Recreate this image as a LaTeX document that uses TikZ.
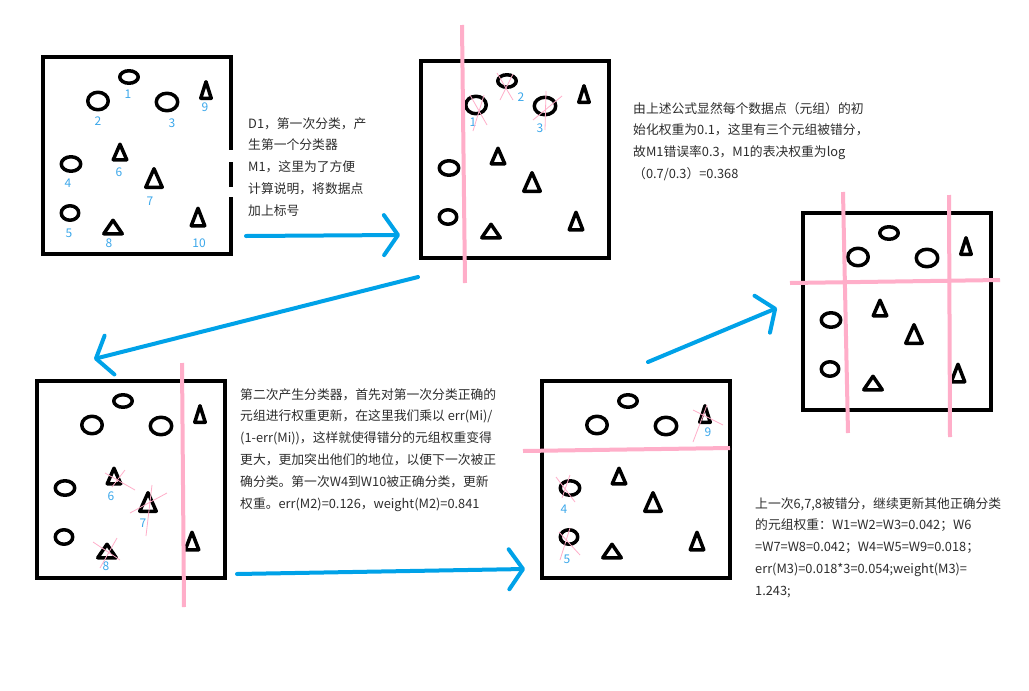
\documentclass[tikz,border=0pt]{standalone}
\usepackage{fontspec}
\setmainfont{Noto Sans CJK SC}
\usetikzlibrary{arrows.meta}
\definecolor{pblue}{RGB}{0,162,232}
\definecolor{lblue}{RGB}{60,168,235}
\definecolor{pinkc}{RGB}{255,174,201}
\definecolor{txtc}{RGB}{45,45,45}
\begin{document}
\begin{tikzpicture}[x=1pt,y=-1pt,
  box/.style={draw=black, line width=4pt, minimum width=188pt, minimum height=197pt, anchor=north west, inner sep=0pt, outer sep=0pt},
  shp/.style={draw=black, line width=3.5pt, line join=round},
  lab/.style={text=lblue, font=\fontsize{12}{12}\selectfont, inner sep=0pt},
  cut/.style={draw=pinkc, line width=4pt},
  xmark/.style={draw=pinkc, line width=0.8pt},
  flow/.style={draw=pblue, line width=4pt, line cap=round, -{Straight Barb[length=14pt,width=40pt,line cap=round,line join=round]}},
  note/.style={text=txtc, align=left, anchor=north west, inner sep=0pt, font=\fontsize{12.8}{21.8}\selectfont},
  pts/.pic={
    \draw[shp] (86,20) ellipse [x radius=9.25pt, y radius=6.25pt];
    \draw[shp] (55,44) ellipse [x radius=10.25pt, y radius=8.75pt];
    \draw[shp] (124,45) ellipse [x radius=10.75pt, y radius=8.75pt];
    \draw[shp] (28,107) ellipse [x radius=9.75pt, y radius=7.25pt];
    \draw[shp] (27,156) ellipse [x radius=8.75pt, y radius=7.25pt];
    \draw[shp] (163,33) ++(-5.25,8.25) -- ++(5.25,-16.5) -- ++(5.25,16.5) -- cycle;
    \draw[shp] (77,95) ++(-6.75,7.75) -- ++(6.75,-15.5) -- ++(6.75,15.5) -- cycle;
    \draw[shp] (111,121) ++(-8.25,9.25) -- ++(8.25,-18.5) -- ++(8.25,18.5) -- cycle;
    \draw[shp] (70,170) ++(-9.25,6.75) -- ++(9.25,-13.5) -- ++(9.25,13.5) -- cycle;
    \draw[shp] (155,160) ++(-6.75,8.75) -- ++(6.75,-17.5) -- ++(6.75,17.5) -- cycle;
  }]
\useasboundingbox (0,0) rectangle (1029,691);
\fill[white] (0,0) rectangle (1029,691);

% boxes
\node[box] (b1) at (43,57) {};
\node[box] (b2) at (421,61) {};
\node[box] (b3) at (803,213) {};
\node[box] (b4) at (37,381) {};
\node[box] (b5) at (542,381) {};
\fill[white] (227,150) rectangle (236,162);
\fill[white] (227,187) rectangle (236,197);

% data points
\pic at (43,57) {pts};
\pic at (421,61) {pts};
\pic at (803,213) {pts};
\pic at (37,381) {pts};
\pic at (542,381) {pts};

% labels box 1
\node[lab] (l1) at (128,94) {1};
\node[lab] (l2) at (98,121) {2};
\node[lab] (l3) at (172,123) {3};
\node[lab] (l9) at (205,107) {9};
\node[lab] (l6) at (119,172) {6};
\node[lab] (l4) at (68,183) {4};
\node[lab] (l7) at (150,201) {7};
\node[lab] (l5) at (69,233) {5};
\node[lab] (l8) at (109,243) {8};
\node[lab] (l10) at (199,243) {10};

% labels box 2
\node[lab] (m2) at (521,97) {2};
\node[lab] (m1) at (473,122) {1};
\node[lab] (m3) at (540,128) {3};
% labels box 4
\node[lab] (k6) at (111,496) {6};
\node[lab] (k7) at (143,523) {7};
\node[lab] (k8) at (106,566) {8};
% labels box 5
\node[lab] (j9) at (708,432) {9};
\node[lab] (j4) at (564,509) {4};
\node[lab] (j5) at (567,559) {5};

% cross marks
\draw[xmark] (470,95) -- (487,125) (484,95) -- (473,131);
\draw[xmark] (497,73) -- (513,100) (513,74) -- (500,100);
\draw[xmark] (533,120) -- (562,96) (546,91) -- (545,130);
\draw[xmark] (105,473) -- (135,490) (125,470) -- (112,487);
\draw[xmark] (130,513) -- (167,493) (152,485) -- (146,536);
\draw[xmark] (93,542) -- (120,560) (117,538) -- (100,568);
\draw[xmark] (693,410) -- (723,425) (707,405) -- (693,442);
\draw[xmark] (556,477) -- (575,502) (570,475) -- (562,498);
\draw[xmark] (559,532) -- (580,555) (570,528) -- (560,560);

% separating lines
\draw[cut] (462,25) -- (465,283);
\draw[cut] (182,363) -- (184,607);
\draw[cut] (523,451) -- (730,448);
\draw[cut] (843,192) -- (848,433);
\draw[cut] (949,195) -- (950,437);
\draw[cut] (790,283) -- (1000,280);

% arrows
\coordinate (a1s) at (246,236);
\coordinate (a1e) at (400,235);
\coordinate (a2s) at (418,277);
\coordinate (a2e) at (94,359);
\coordinate (a3s) at (237,574);
\coordinate (a3e) at (525,569);
\coordinate (a4s) at (648,362);
\coordinate (a4e) at (777,308);
\draw[flow] (a1s) -- (a1e);
\draw[flow] (a2s) -- (a2e);
\draw[flow] (a3s) -- (a3e);
\draw[flow] (a4s) -- (a4e);

% notes
\node[note] (n1) at (248,117) {D1，第一次分类，产\\生第一个分类器\\M1，这里为了方便\\计算说明，将数据点\\加上标号};
\node[note] (n2) at (633,102) {由上述公式显然每个数据点（元组）的初\\始化权重为0.1，这里有三个元组被错分，\\故M1错误率0.3，M1的表决权重为log\\（0.7/0.3）=0.368};
\node[note] (n3) at (240,388) {第二次产生分类器，首先对第一次分类正确的\\元组进行权重更新，在这里我们乘以 err(Mi)/\\(1-err(Mi))，这样就使得错分的元组权重变得\\更大，更加突出他们的地位，以便下一次被正\\确分类。第一次W4到W10被正确分类，更新\\权重。err(M2)=0.126，weight(M2)=0.841};
\node[note] (n4) at (755,497) {上一次6,7,8被错分，继续更新其他正确分类\\的元组权重：W1=W2=W3=0.042；W6\\=W7=W8=0.042；W4=W5=W9=0.018；\\err(M3)=0.018*3=0.054;weight(M3)=\\1.243;};
\end{tikzpicture}
\end{document}
